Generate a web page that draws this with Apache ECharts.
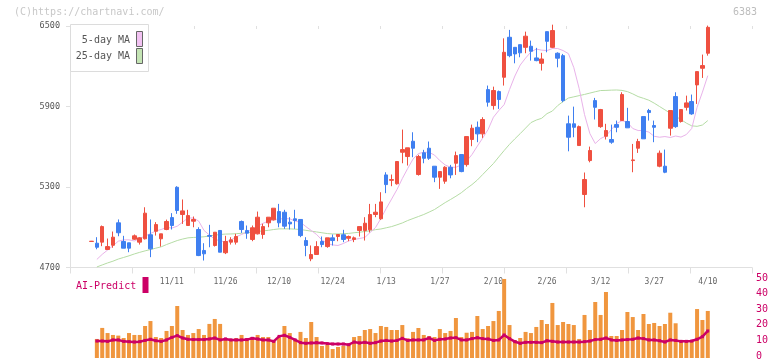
<!DOCTYPE html>
<html><head><meta charset="utf-8">
<script src="https://cdn.jsdelivr.net/npm/echarts@6/dist/echarts.min.js"></script>
<style>html,body{margin:0;padding:0;background:#fff}#c{width:772px;height:361px}</style>
</head><body><div id="c"></div>
<script>
const dates = ['10/20','10/21','10/22','10/23','10/24','10/27','10/28','10/29','10/30','10/31',
'11/4','11/5','11/6','11/7','11/10','11/11','11/12','11/13','11/14','11/17',
'11/18','11/19','11/20','11/21','11/25','11/26','11/27','11/28','12/1','12/2',
'12/3','12/4','12/5','12/8','12/9','12/10','12/11','12/12','12/15','12/16',
'12/17','12/18','12/19','12/22','12/23','12/24','12/25','12/26','12/29','12/30',
'1/5','1/6','1/7','1/8','1/9','1/13','1/14','1/15','1/16','1/19',
'1/20','1/21','1/22','1/23','1/26','1/27','1/28','1/29','1/30','2/2',
'2/3','2/4','2/5','2/6','2/9','2/10','2/12','2/13','2/16','2/17',
'2/18','2/19','2/20','2/24','2/25','2/26','2/27','3/2','3/3','3/4',
'3/5','3/6','3/9','3/10','3/11','3/12','3/13','3/16','3/17','3/18',
'3/19','3/23','3/24','3/25','3/26','3/27','3/30','3/31','4/1','4/2',
'4/3','4/6','4/7','4/8','4/9','4/10'];

const opens = [4894,4881,4889,4834,4866,5033,4894,4884,4911,4889,
4914,4944,4970,4914,4983,5072,5298,5095,5013,5045,
4983,4827,4938,4864,4976,4810,4889,4889,5043,4976,
4909,4951,4946,5033,5055,5117,5112,5038,5063,5058,
4901,4765,4797,4894,4856,4921,4931,4944,4918,4909,
4976,4976,4981,5095,5063,5390,5350,5324,5559,5527,
5641,5393,5555,5589,5455,5373,5343,5447,5477,5542,
5467,5654,5745,5696,6026,5907,6011,6118,6416,6341,
6361,6341,6349,6262,6222,6458,6341,6297,6279,5771,
5771,5609,5244,5497,5944,5750,5678,5654,5765,5795,
5788,5497,5589,5825,5870,5758,5455,5455,5738,5974,
5788,5894,5937,6061,6185,6297];

const closes = [4896,4851,5005,4856,4926,4959,4844,4844,4936,4921,
5105,4839,5020,4951,5043,5013,5125,5122,5087,5058,
4789,4802,4933,4963,4814,4894,4906,4931,4983,4956,
4996,5075,5005,5075,5142,5033,5008,5025,5050,4938,
4864,4797,4856,4871,4921,4901,4946,4909,4931,4921,
5005,5030,5095,5112,5189,5318,5355,5490,5579,5592,
5589,5527,5514,5514,5373,5415,5447,5390,5534,5415,
5676,5738,5696,5803,5932,6019,5952,6304,6279,6292,
6300,6424,6312,6242,6254,6386,6466,6260,5944,5671,
5745,5750,5356,5572,5894,5877,5721,5634,5745,5989,
5741,5502,5639,5659,5855,5745,5552,5410,5870,5750,
5877,5927,5845,6160,6205,6490];

const lows = [4892,4836,4859,4832,4847,4933,4844,4814,4906,4871,
4909,4777,4938,4856,4978,4983,5100,5025,5013,5000,
4785,4752,4851,4856,4814,4800,4871,4871,4958,4914,
4896,4946,4914,5000,5050,5000,4988,4983,4988,4926,
4784,4747,4797,4851,4847,4864,4896,4889,4896,4889,
4931,4901,4961,5075,5055,5254,5306,5318,5477,5460,
5522,5385,5477,5502,5336,5286,5324,5365,5390,5410,
5452,5604,5634,5666,5899,5877,5882,6056,6267,6222,
6267,6297,6242,6237,6168,6304,6335,6192,5932,5566,
5671,5609,5149,5484,5803,5741,5654,5622,5708,5795,
5741,5410,5554,5659,5795,5634,5447,5403,5683,5741,
5780,5870,5838,5919,6113,6279];

const highs = [4898,4926,5013,4916,4968,5058,4936,4884,4946,4926,
5149,5058,5038,4951,5057,5105,5306,5207,5130,5080,
5000,4881,5018,4963,4976,4936,4926,4951,5050,5013,
5013,5117,5026,5075,5142,5174,5130,5075,5130,5058,
4926,4864,4896,4931,4921,4946,4946,4981,4938,4931,
5005,5075,5174,5174,5261,5410,5393,5490,5728,5592,
5708,5540,5577,5639,5455,5415,5455,5465,5564,5542,
5676,5765,5788,5820,6056,6048,6019,6408,6471,6341,
6361,6458,6391,6337,6300,6458,6510,6304,6292,5832,
5899,5758,5408,5601,5964,5882,5771,5765,5795,6006,
5890,5621,5659,5825,5882,5795,5572,5579,5870,6006,
5877,5981,5989,6160,6287,6503];

const ma5 = ['-',4760,4798,4830,4862,4896,4906,4906,4898,4916,
4934,4953,4972,4983,4999,4994,5008,5038,5069,5069,
5046,4976,4942,4911,4898,4890,4905,4929,4946,4964,
4983,5009,5029,5046,5058,5061,5065,5063,5046,5037,
5005,4976,4946,4905,4879,4868,4864,4879,4898,4909,
4916,4924,4961,4998,5065,5140,5210,5281,5363,5438,
5508,5549,5559,5559,5538,5497,5464,5447,5447,5465,
5493,5542,5605,5665,5728,5820,5870,5914,6026,6127,
6209,6261,6307,6328,6320,6317,6332,6332,6317,6294,
6190,6034,5840,5698,5624,5661,5680,5728,5773,5795,
5782,5736,5721,5721,5709,5678,5671,5676,5669,5680,
5672,5691,5736,5894,6007,6130];

const ma25 = ['-',4704,4719,4734,4747,4763,4775,4787,4801,4813,
4824,4834,4844,4854,4871,4886,4901,4912,4921,4924,
4926,4929,4935,4941,4946,4949,4950,4952,4955,4958,
4964,4969,4973,4977,4983,4988,4988,4988,4986,4983,
4977,4971,4965,4959,4953,4950,4950,4952,4954,4959,
4963,4968,4974,4982,4987,4996,5005,5018,5032,5050,
5065,5080,5095,5113,5132,5158,5184,5207,5231,5257,
5289,5318,5352,5393,5434,5475,5524,5572,5618,5659,
5698,5739,5780,5799,5812,5847,5866,5907,5937,5963,
5972,5981,5990,6000,6010,6019,6020,6022,6023,6020,
6011,5994,5974,5961,5947,5925,5900,5875,5850,5826,
5803,5776,5756,5752,5762,5795];

const volume = ['-',11.9,18.8,15.6,14.4,14.0,12.5,15.6,14.4,14.4,
20.0,23.1,13.1,12.5,16.9,20.0,32.5,17.5,14.4,15.6,
18.1,14.4,21.3,24.4,21.3,11.9,11.9,12.5,14.4,12.5,
13.1,14.4,13.1,13.1,10.6,12.5,20.0,15.6,11.3,16.3,
12.5,22.5,13.1,7.5,8.1,5.6,6.9,7.5,8.75,13.1,
13.75,17.5,18.1,15.6,20.0,19.4,17.5,17.5,20.6,12.3,
16.3,18.75,14.4,13.75,13.1,18.1,15.6,16.9,25.0,13.1,
15.8,16.3,26.25,18.1,20.0,23.1,29.4,49.4,20.6,11.25,
12.5,16.3,15.6,19.4,23.75,21.25,34.4,20.6,22.5,21.25,
20.6,11.9,26.9,17.5,35.0,26.9,41.25,13.75,13.75,17.5,
28.75,25.6,17.5,27.5,21.25,21.9,20.0,21.25,28.3,21.7,
10.0,10.0,10.6,30.6,23.75,29.4];

const aiPredict = ['-',10.6,10.6,10.4,11.3,11.3,10.4,10.2,10.0,10.2,
11.0,11.7,10.8,10.4,11.3,12.9,14.0,12.5,11.7,11.5,
11.5,11.5,11.9,12.5,11.3,11.9,11.3,11.3,11.3,11.5,
12.3,11.9,11.3,11.3,10.4,13.5,14.2,12.9,11.3,9.6,
9.2,9.4,9.6,9.4,9.0,8.75,8.75,8.75,8.3,10.0,
9.4,9.8,9.2,9.6,10.6,11.0,10.6,11.0,12.3,11.0,
11.3,11.3,11.3,12.5,11.0,11.7,11.9,12.5,12.7,11.3,
11.3,12.1,12.7,12.1,11.9,11.0,11.3,14.4,12.1,10.2,
9.2,9.8,9.8,9.8,9.6,10.8,10.4,10.0,10.0,10.0,
10.0,10.0,10.2,10.6,11.5,11.7,12.5,11.3,11.0,11.3,
11.5,11.7,12.5,12.1,11.3,11.3,10.8,10.0,11.3,11.0,
10.4,10.4,10.6,11.7,13.3,16.9];

const dateLabels = ['11/11','11/26','12/10','12/24','1/13','1/27','2/10','2/26','3/12','3/27','4/10'];
const priceTicks = [4700, 5300, 5900, 6500];
const volTicks = [0, 10, 20, 30, 40, 50];
const legendNames = ['5-day MA', '25-day MA'];

const MONO = 'DejaVu Sans Mono';
const SLOT = 5.359;
const N = dates.length;
const pLeft = 91.5 - SLOT / 2;
const pWidth = N * SLOT;
const TOP = 26, H = 241.5;
const VTOP = 278, VH = 80;
const AXC = '#e0e0e0';
const labelSet = new Set(dateLabels);

const candleData = opens.map((o, i) => [o, closes[i], lows[i], highs[i]]);

const chart = echarts.init(document.getElementById('c'), null, {renderer: 'canvas'});
chart.setOption({
  animation: false,
  backgroundColor: '#fff',
  grid: [
    {left: pLeft, width: pWidth, top: TOP, height: H},
    {left: 70, width: 682, top: TOP, height: H},
    {left: pLeft, width: pWidth, top: VTOP, height: VH},
    {left: 70, width: 682, top: VTOP, height: VH}
  ],
  xAxis: [
    {type: 'category', gridIndex: 0, data: dates, boundaryGap: true,
     axisLine: {show: false}, axisTick: {show: false}, splitLine: {show: false},
     axisLabel: {interval: (i, v) => labelSet.has(v), margin: 10, fontSize: 8, color: '#666', fontFamily: MONO}},
    {type: 'value', gridIndex: 1, min: 0, max: 11, interval: 1,
     axisLine: {show: true, lineStyle: {color: AXC, width: 1}},
     axisTick: {show: true, length: 6, lineStyle: {color: AXC}},
     axisLabel: {show: false}, splitLine: {show: false}},
    {type: 'value', gridIndex: 1, min: 0, max: 11, interval: 1,
     axisLine: {show: false},
     axisTick: {show: true, inside: true, length: 3, lineStyle: {color: AXC}},
     axisLabel: {show: false}, splitLine: {show: false}},
    {type: 'category', gridIndex: 2, data: dates, boundaryGap: true, show: false},
    {type: 'value', gridIndex: 3, min: 0, max: 1, show: false}
  ],
  yAxis: [
    {type: 'value', gridIndex: 0, min: priceTicks[0], max: priceTicks[priceTicks.length-1], show: false, splitLine: {show: false}},
    {type: 'value', gridIndex: 1, min: priceTicks[0], max: priceTicks[priceTicks.length-1], interval: priceTicks[1]-priceTicks[0],
     axisLine: {show: true, lineStyle: {color: AXC, width: 1}},
     axisTick: {show: true, length: 4, lineStyle: {color: AXC}},
     axisLabel: {margin: 10, fontSize: 8.5, color: '#555', fontFamily: MONO, formatter: v => String(v)},
     splitLine: {show: false}},
    {type: 'value', gridIndex: 1, min: priceTicks[0], max: priceTicks[priceTicks.length-1], interval: priceTicks[1]-priceTicks[0],
     axisLine: {show: false},
     axisTick: {show: true, inside: true, length: 3, lineStyle: {color: AXC}},
     axisLabel: {show: false}, splitLine: {show: false}},
    {type: 'value', gridIndex: 2, min: volTicks[0], max: volTicks[volTicks.length-1], show: false, splitLine: {show: false}},
    {type: 'value', gridIndex: 3, position: 'right', min: volTicks[0], max: volTicks[volTicks.length-1], interval: volTicks[1]-volTicks[0],
     axisLine: {show: false}, axisTick: {show: false}, splitLine: {show: false},
     axisLabel: {margin: 4, fontSize: 10, color: '#cc0066', fontFamily: MONO, formatter: v => String(v)}}
  ],
  series: [
    {name: legendNames[1], type: 'line', xAxisIndex: 0, yAxisIndex: 0, data: ma25, showSymbol: false, smooth: false,
     lineStyle: {color: '#b5dca5', width: 1}, z: 1, silent: true},
    {name: legendNames[0], type: 'line', xAxisIndex: 0, yAxisIndex: 0, data: ma5, showSymbol: false, smooth: false,
     lineStyle: {color: '#e9b3ea', width: 1}, z: 1, silent: true},
    {type: 'candlestick', xAxisIndex: 0, yAxisIndex: 0, data: candleData, barWidth: 4, z: 3,
     itemStyle: {color: '#ef5040', color0: '#3f7ff0', borderColor: '#ef5040', borderColor0: '#3f7ff0', borderColorDoji: '#ef5040', borderWidth: 1}},
    {type: 'bar', xAxisIndex: 3, yAxisIndex: 3, data: volume, barWidth: 4, itemStyle: {color: '#f0963e'}, z: 1},
    {type: 'line', xAxisIndex: 3, yAxisIndex: 3, data: aiPredict, showSymbol: true, symbol: 'rect', symbolSize: 3,
     itemStyle: {color: '#cc0066'}, lineStyle: {color: '#cc0066', width: 2.5}, z: 2}
  ],
  graphic: [
    {type: 'text', left: 14, top: 7, z: 100, style: {text: '(C)https://chartnavi.com/', font: '10px ' + MONO, fill: '#c8c8c8'}},
    {type: 'text', left: 733, top: 7, z: 100, style: {text: '6383', font: '10px ' + MONO, fill: '#bdbdbd'}},
    {type: 'rect', z: 100, shape: {x: 70.5, y: 24.5, width: 78, height: 47}, style: {fill: '#fff', stroke: '#dcdcdc', lineWidth: 1}},
    {type: 'text', z: 101, style: {text: legendNames[0], x: 130, y: 40, align: 'right', verticalAlign: 'middle', font: '10px ' + MONO, fill: '#555'}},
    {type: 'text', z: 101, style: {text: legendNames[1], x: 130, y: 56, align: 'right', verticalAlign: 'middle', font: '10px ' + MONO, fill: '#555'}},
    {type: 'rect', z: 101, shape: {x: 136.5, y: 31.5, width: 6, height: 15}, style: {fill: '#f2c2f2', stroke: '#666', lineWidth: 1}},
    {type: 'rect', z: 101, shape: {x: 136.5, y: 48.5, width: 6, height: 15}, style: {fill: '#c4e4b4', stroke: '#666', lineWidth: 1}},
    {type: 'text', z: 101, style: {text: 'AI-Predict', x: 76, y: 286, verticalAlign: 'middle', font: '10px ' + MONO, fill: '#cc0066'}},
    {type: 'rect', z: 101, shape: {x: 142.5, y: 277, width: 6, height: 16}, style: {fill: '#cc0066'}}
  ]
});
</script>
</body></html>
